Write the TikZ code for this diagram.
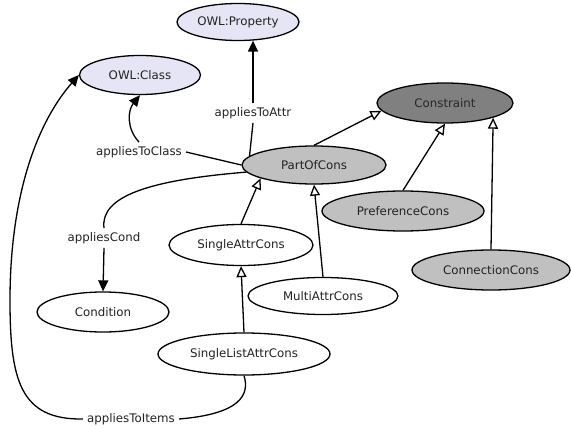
\documentclass[tikz,border=0pt]{standalone}
\usepackage{fontspec}
\setmainfont{DejaVu Sans}
\usetikzlibrary{arrows.meta,shapes.geometric}
\definecolor{owlfill}{RGB}{229,229,245}
\definecolor{darkfill}{RGB}{128,128,128}
\definecolor{grayfill}{RGB}{192,192,192}
\definecolor{txt}{RGB}{34,34,34}
\tikzset{
  cls/.style 2 args={ellipse, draw, line width=1.3pt, inner sep=0pt,
    minimum width=#1pt, minimum height=#2pt, text=txt,
    font=\fontsize{11.8}{13}\selectfont},
  owl/.style={fill=owlfill},
  dark/.style={fill=darkfill, text={rgb,255:red,40;green,40;blue,40}},
  gray/.style={fill=grayfill},
  plain/.style={fill=white},
  lbl/.style={inner sep=4pt, text=txt, font=\fontsize{11.8}{13}\selectfont},
  assoc/.style={line width=1.3pt, -{Triangle[length=11pt,width=10pt]}},
  link/.style={line width=1.3pt},
  gen/.style={line width=1.3pt, -{Triangle[open,length=11pt,width=10pt,fill=white]}}
}
\begin{document}
\begin{tikzpicture}[x=1pt,y=-1pt]
\useasboundingbox (0,0) rectangle (571,428);
% classes
\node[cls={122}{37}, owl] (prop) at (238,22) {OWL:Property};
\node[cls={121}{39}, owl] (owlc) at (140,75) {OWL:Class};
\node[cls={136}{40}, dark] (cons) at (445,103) {Constraint};
\node[cls={144}{38}, gray] (part) at (314,165) {PartOfCons};
\node[cls={162}{40}, gray] (pref) at (403,211) {PreferenceCons};
\node[cls={158}{40}, gray] (conn) at (491,270) {ConnectionCons};
\node[cls={144}{41}, plain] (sattr) at (241,245) {SingleAttrCons};
\node[cls={150}{37}, plain] (mattr) at (323,296) {MultiAttrCons};
\node[cls={132}{40}, plain] (cond) at (103,312) {Condition};
\node[cls={172}{42}, plain] (slist) at (244,354) {SingleListAttrCons};
% association labels
\node[lbl] (lattr) at (253,113) {appliesToAttr};
\node[lbl] (lclass) at (139,152) {appliesToClass};
\node[lbl] (lcond) at (104,238) {appliesCond};
\node[lbl] (litems) at (131,419) {appliesToItems};
% associations
\draw[assoc] (lattr.north) -- ([yshift=0.5pt]lattr.north |- prop.south);
\draw[link] (lattr.south) -- (part.172);
\draw[assoc] (lclass.north) .. controls (126,128) and (128,110) .. (owlc.south);
\draw[link] (lclass.east) -- (part.west);
\draw[link] (lcond.north) .. controls (100,196) and (150,180) .. (part.186);
\draw[assoc] (lcond.south) -- (cond.north);
\draw[assoc] (litems.west) .. controls (20,420) and (10,380) .. (10,300)
   .. controls (10,200) and (35,125) .. (owlc.west);
\draw[link] (litems.east) .. controls (240,414) and (250,395) .. (slist.south);
% generalisations
\draw[gen] (part.north) -- (cons.187);
\draw[gen] (pref.north) -- (cons.south);
\draw[gen] (conn.north) -- (cons.-17.7);
\draw[gen] (sattr.north) -- (part.194);
\draw[gen] (mattr.north) -- (part.south);
\draw[gen] (slist.north) -- (sattr.south);
\end{tikzpicture}
\end{document}
